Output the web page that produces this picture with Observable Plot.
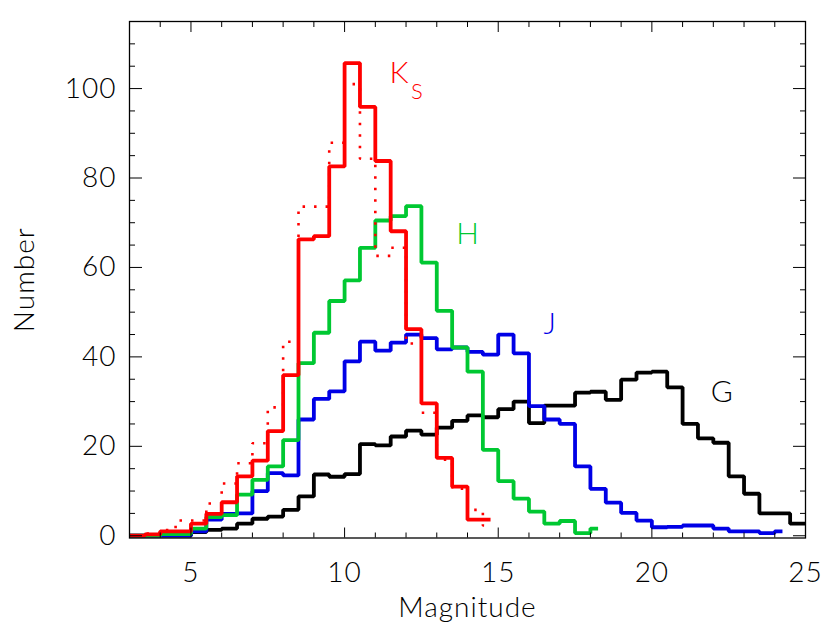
<!DOCTYPE html>
<html>
<head>
<meta charset="utf-8">
<script src="https://cdn.jsdelivr.net/npm/d3@7"></script>
<script src="https://cdn.jsdelivr.net/npm/@observablehq/plot@0.6"></script>
<style>
  html, body { margin: 0; padding: 0; background: #fff; }
  #chart svg text { letter-spacing: 1px; }
</style>
</head>
<body>
<div id="chart"></div>
<script>
// Bin centres (magnitude, bin width 0.5)
const binCenters = [2.75, 3.25, 3.75, 4.25, 4.75, 5.25, 5.75, 6.25, 6.75, 7.25, 7.75, 8.25, 8.75, 9.25, 9.75,
  10.25, 10.75, 11.25, 11.75, 12.25, 12.75, 13.25, 13.75, 14.25, 14.75, 15.25, 15.75, 16.25, 16.75, 17.25,
  17.75, 18.25, 18.75, 19.25, 19.75, 20.25, 20.75, 21.25, 21.75, 22.25, 22.75, 23.25, 23.75, 24.25, 24.75, 25.25];

// G band (black)
const gCounts = [0, 0, 0, 0, 0, 0.8, 1.3, 1.6, 2.7, 3.8, 4.3, 5.8, 8.8, 13.7, 13.2,
  13.8, 20.5, 20.2, 22.2, 23.5, 22.6, 24.2, 25.7, 26.9, 26.5, 28.3, 30.0, 25.2, 29.1, 29.1,
  32.0, 32.2, 30.4, 34.9, 36.5, 36.7, 33.2, 25.0, 21.8, 20.8, 13.3, 9.4, 5.0, 5.0, 2.7, 2.7];

// J band (blue)
const jCounts = [0, 0, 0, 0, 0, 1.0, 3.6, 4.9, 5.0, 10.0, 14.0, 13.5, 26.0, 30.6, 32.3,
  39.0, 43.4, 41.4, 43.2, 45.0, 44.2, 41.7, 42.1, 41.1, 40.5, 45.0, 40.8, 29.0, 26.0, 25.0,
  15.5, 10.5, 7.4, 5.1, 3.4, 1.9, 2.0, 2.3, 2.3, 1.6, 1.0, 1.0, 0.6, 1.0, null, null];

// H band (green)
const hCounts = [0, 0, 0, 0.4, 0.4, 1.6, 4.2, 4.6, 9.2, 12.5, 15.5, 21.4, 38.6, 45.4, 52.5,
  57.1, 64.4, 70.5, 71.5, 73.7, 61.1, 50.3, 42.1, 36.7, 19.2, 12.2, 8.3, 5.4, 2.7, 3.3,
  0.6, 1.6, null, null, null, null, null, null, null, null, null, null, null, null, null, null];

// Ks band (red, solid)
const ksCounts = [0, 0, 0.3, 1.0, 1.0, 2.7, 4.9, 7.5, 13.3, 16.8, 23.4, 35.9, 66.3, 67.0, 82.6,
  105.7, 95.9, 83.8, 68.1, 46.2, 29.6, 17.4, 11.0, 3.6, 3.6, null, null, null, null, null,
  null, null, null, null, null, null, null, null, null, null, null, null, null, null, null, null];

// Ks band, second sample (red, dotted)
const ksDotCounts = [null, 0, 0.5, 1.3, 3.4, 3.4, 7.2, 11.7, 16.2, 20.7, 28.7, 43.4, 73.6, 73.6, 87.9,
  101.0, 84.3, 62.6, 64.4, 43.0, 27.5, 17.0, 10.5, 5.8, 2.3, null, null, null, null, null,
  null, null, null, null, null, null, null, null, null, null, null, null, null, null, null, null];

// Axis ticks
const xMajor = [5, 10, 15, 20, 25];
const xMinor = [4, 6, 7, 8, 9, 11, 12, 13, 14, 16, 17, 18, 19, 21, 22, 23, 24];
const yMajor = [0, 20, 40, 60, 80, 100];
const yMinor = [5, 10, 15, 25, 30, 35, 45, 50, 55, 65, 70, 75, 85, 90, 95, 105, 110];

// Band labels
const labelTexts = ["K", "S", "H", "J", "G"];
const labelMags = [11.79, 12.37, 14.02, 16.69, 22.29];
const labelNums = [103.3, 99.3, 67.3, 47.2, 32.0];
const labelSizes = [30, 22, 30, 30, 30];
const labelColors = ["#ff0000", "#ff0000", "#00c832", "#0000e6", "#000000"];

const rows = binCenters.map((m, i) => ({
  mag: m, G: gCounts[i], J: jCounts[i], H: hCounts[i], Ks: ksCounts[i], KsDot: ksDotCounts[i]
}));
const labels = labelTexts.map((t, i) => ({
  text: t, mag: labelMags[i], num: labelNums[i], size: labelSizes[i], color: labelColors[i]
}));

const lineOpts = {x: "mag", curve: "step", strokeWidth: 3.8, strokeLinejoin: "miter", strokeLinecap: "butt", clip: true};

const chart = Plot.plot({
  width: 830,
  height: 640,
  marginLeft: 129,
  marginRight: 25,
  marginTop: 21,
  marginBottom: 102.5,
  style: {fontFamily: "Lato, 'Liberation Sans', sans-serif", fontSize: "28px", fontWeight: 300, background: "#fff", color: "#000"},
  x: {domain: [3, 25]},
  y: {domain: [-0.5, 115]},
  marks: [
    Plot.line(rows, {...lineOpts, y: "G", stroke: "#000000"}),
    Plot.line(rows, {...lineOpts, y: "J", stroke: "#0000e6"}),
    Plot.line(rows, {...lineOpts, y: "H", stroke: "#00c832"}),
    Plot.line(rows, {...lineOpts, y: "KsDot", stroke: "#ff0000", strokeWidth: 2.6, strokeDasharray: "2.5,9"}),
    Plot.line(rows, {...lineOpts, y: "Ks", stroke: "#ff0000"}),
    Plot.frame({stroke: "#000", strokeWidth: 1.3}),
    // tick labels and axis titles
    Plot.axisX(xMajor, {anchor: "bottom", tickSize: 0, tickPadding: 24, tickFormat: d => String(d), label: "Magnitude", labelAnchor: "center", labelArrow: "none", labelOffset: 79}),
    Plot.axisY(yMajor, {anchor: "left", tickSize: 0, tickPadding: 13, tickFormat: d => String(d), label: "Number", labelAnchor: "center", labelArrow: "none", labelOffset: 115}),
    // inward ticks on all four sides
    Plot.axisX(xMajor, {anchor: "bottom", tickSize: -10, fill: "none"}),
    Plot.axisX(xMinor, {anchor: "bottom", tickSize: -5, fill: "none"}),
    Plot.axisX(xMajor, {anchor: "top", tickSize: -10, fill: "none"}),
    Plot.axisX(xMinor, {anchor: "top", tickSize: -5, fill: "none"}),
    Plot.axisY(yMajor, {anchor: "left", tickSize: -13, fill: "none"}),
    Plot.axisY(yMinor, {anchor: "left", tickSize: -6, fill: "none"}),
    Plot.axisY(yMajor, {anchor: "right", tickSize: -13, fill: "none"}),
    Plot.axisY(yMinor, {anchor: "right", tickSize: -6, fill: "none"}),
    // band labels
    Plot.text(labels, {x: "mag", y: "num", text: "text", fill: "color", fontSize: "size", textAnchor: "middle", lineAnchor: "middle"})
  ]
});
document.getElementById("chart").appendChild(chart);
</script>
</body>
</html>
